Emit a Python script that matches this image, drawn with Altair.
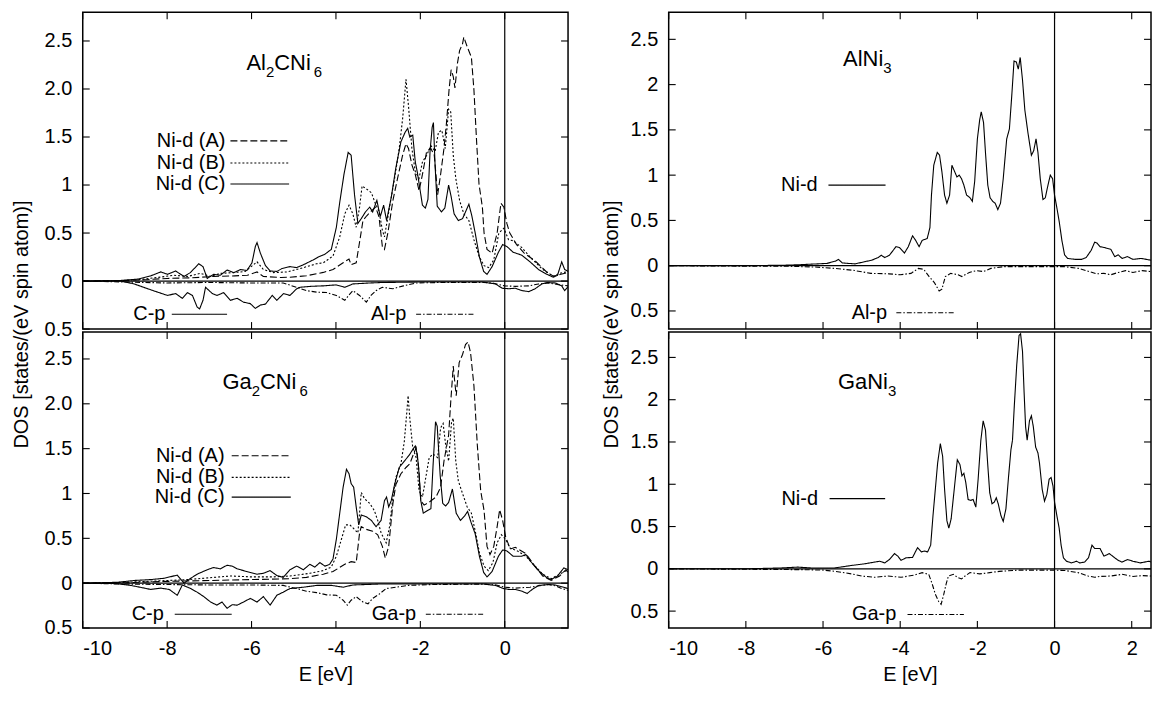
import altair as alt
import pandas as pd

FONT = "Liberation Sans"

# ---------------- axes ----------------
LEFT_XDOM = [-10, 1.5]
RIGHT_XDOM = [-10, 2.5]
LEFT_YDOM = [-0.5, 2.8]
RIGHT_YDOM = [-0.7, 2.8]
LEFT_XTICKS = [-10, -8, -6, -4, -2, 0]
RIGHT_XTICKS = [-10, -8, -6, -4, -2, 0, 2]
YTICKS = [-0.5, 0, 0.5, 1, 1.5, 2, 2.5]
XTITLE = "E [eV]"
YTITLE = "DOS [states/(eV spin atom)]"

# ---------------- Al2CNi6 (top left) ----------------
TL_A = [(-10,0),(-9,0.005),(-8.5,0.014),(-8,0.027),(-7.4,0.034),(-6.9,0.048),(-6.4,0.054),(-6.1,0.06),(-5.87,0.095),(-5.72,0.048),(-5.3,0.037),(-5.09,0.04),(-4.7,0.055),(-4.3,0.09),(-4.07,0.12),(-3.83,0.19),(-3.69,0.23),(-3.64,0.17),(-3.52,0.19),(-3.42,0.46),(-3.36,0.63),(-3.27,0.68),(-3.16,0.73),(-3.06,0.77),(-2.98,0.67),(-2.9,0.36),(-2.85,0.33),(-2.77,0.5),(-2.65,0.84),(-2.54,1.07),(-2.42,1.31),(-2.34,1.43),(-2.28,1.38),(-2.2,1.21),(-2.12,1.11),(-2.03,0.94),(-1.95,1.11),(-1.85,1.35),(-1.75,1.38),(-1.67,1.31),(-1.59,0.9),(-1.52,1.11),(-1.44,1.38),(-1.38,1.65),(-1.32,1.99),(-1.27,2.2),(-1.22,2.13),(-1.18,2.01),(-1.12,2.27),(-1.07,2.4),(-1.0,2.47),(-0.97,2.54),(-0.89,2.44),(-0.79,2.33),(-0.73,1.99),(-0.67,1.48),(-0.61,1.01),(-0.53,0.77),(-0.49,0.5),(-0.42,0.33),(-0.3,0.29),(-0.18,0.5),(-0.09,0.81),(-0.02,0.77),(0.05,0.6),(0.12,0.5),(0.28,0.38),(0.46,0.29),(0.72,0.21),(0.98,0.1),(1.15,0.05),(1.33,0.07),(1.5,0.09)]
TL_B = [(-10,0),(-9,0.005),(-8.7,0.014),(-8.23,0.037),(-7.84,0.06),(-7.52,0.048),(-7.21,0.08),(-6.97,0.048),(-6.74,0.08),(-6.42,0.088),(-6.15,0.1),(-5.87,0.2),(-5.72,0.12),(-5.48,0.088),(-5.16,0.095),(-4.77,0.14),(-4.46,0.18),(-4.3,0.19),(-4.07,0.26),(-3.91,0.46),(-3.79,0.7),(-3.69,0.79),(-3.6,0.7),(-3.52,0.56),(-3.44,0.77),(-3.38,0.99),(-3.28,0.96),(-3.16,0.92),(-3.06,0.8),(-2.98,0.73),(-2.9,0.53),(-2.85,0.46),(-2.73,0.77),(-2.61,1.07),(-2.5,1.38),(-2.42,1.69),(-2.34,2.1),(-2.28,1.82),(-2.2,1.38),(-2.12,1.14),(-2.03,1.07),(-1.95,1.24),(-1.85,1.31),(-1.75,1.41),(-1.65,1.35),(-1.57,1.55),(-1.49,1.57),(-1.41,1.38),(-1.33,1.79),(-1.28,1.76),(-1.22,1.31),(-1.16,1.07),(-1.07,0.84),(-0.97,0.7),(-0.85,0.63),(-0.73,0.43),(-0.61,0.26),(-0.49,0.16),(-0.38,0.14),(-0.26,0.22),(-0.14,0.5),(-0.02,0.55),(0.09,0.43),(0.2,0.42),(0.4,0.35),(0.6,0.25),(0.9,0.12),(1.15,0.05),(1.3,0.08),(1.5,0.1)]
TL_C = [(-10,0),(-9.2,0.003),(-8.7,0.02),(-8.39,0.054),(-8.15,0.095),(-7.99,0.07),(-7.8,0.105),(-7.6,0.048),(-7.45,0.088),(-7.25,0.18),(-7.15,0.15),(-7.05,0.027),(-6.9,0.07),(-6.74,0.06),(-6.58,0.115),(-6.42,0.088),(-6.26,0.12),(-6.11,0.11),(-5.99,0.19),(-5.91,0.36),(-5.87,0.4),(-5.79,0.29),(-5.67,0.16),(-5.56,0.105),(-5.4,0.1),(-5.28,0.13),(-5.09,0.15),(-4.93,0.14),(-4.77,0.17),(-4.54,0.22),(-4.42,0.25),(-4.26,0.28),(-4.11,0.33),(-3.99,0.56),(-3.91,0.82),(-3.81,1.11),(-3.71,1.34),(-3.64,1.31),(-3.56,0.9),(-3.48,0.6),(-3.4,0.65),(-3.3,0.72),(-3.2,0.77),(-3.13,0.72),(-3.03,0.84),(-2.95,0.67),(-2.87,0.79),(-2.8,0.63),(-2.69,0.87),(-2.58,1.18),(-2.46,1.45),(-2.36,1.55),(-2.3,1.59),(-2.25,1.5),(-2.18,1.52),(-2.12,1.24),(-2.07,1.13),(-2.01,0.96),(-1.95,0.79),(-1.88,0.76),(-1.82,0.85),(-1.77,1.35),(-1.72,1.6),(-1.69,1.65),(-1.65,1.2),(-1.6,0.78),(-1.5,0.72),(-1.42,0.76),(-1.33,1.0),(-1.27,0.88),(-1.2,0.7),(-1.1,0.63),(-1.0,0.65),(-0.9,0.75),(-0.85,0.8),(-0.78,0.68),(-0.7,0.5),(-0.6,0.25),(-0.5,0.1),(-0.42,0.07),(-0.3,0.15),(-0.15,0.3),(-0.05,0.38),(0.05,0.36),(0.2,0.3),(0.4,0.27),(0.6,0.2),(0.8,0.12),(1.0,0.07),(1.15,0.04),(1.25,0.06),(1.35,0.2),(1.42,0.12),(1.5,0.1)]
TL_CP = [(-10,0),(-9.1,0),(-8.78,-0.03),(-8.46,-0.08),(-8.23,-0.115),(-7.99,-0.15),(-7.8,-0.13),(-7.64,-0.18),(-7.52,-0.12),(-7.4,-0.15),(-7.29,-0.27),(-7.23,-0.29),(-7.15,-0.2),(-7.09,-0.065),(-6.93,-0.13),(-6.82,-0.15),(-6.66,-0.12),(-6.5,-0.2),(-6.34,-0.18),(-6.19,-0.22),(-6.03,-0.235),(-5.91,-0.285),(-5.79,-0.25),(-5.67,-0.24),(-5.51,-0.15),(-5.4,-0.2),(-5.24,-0.13),(-5.09,-0.15),(-4.93,-0.08),(-4.85,-0.065),(-4.6,-0.055),(-4.3,-0.05),(-4.0,-0.04),(-3.79,-0.065),(-3.6,-0.03),(-3.2,-0.02),(-2.9,-0.015),(-2.0,-0.01),(-0.53,-0.01),(-0.22,-0.03),(-0.06,-0.075),(0.1,-0.08),(0.25,-0.075),(0.41,-0.1),(0.57,-0.11),(0.72,-0.08),(0.88,-0.03),(1.0,-0.015),(1.2,-0.02),(1.35,-0.05),(1.42,-0.1),(1.5,-0.06)]
TL_ALP = [(-10,0),(-9,-0.01),(-8,-0.02),(-7,-0.015),(-6,-0.02),(-5.25,-0.02),(-4.93,-0.065),(-4.7,-0.1),(-4.46,-0.115),(-4.22,-0.12),(-3.99,-0.15),(-3.79,-0.2),(-3.7,-0.15),(-3.6,-0.1),(-3.44,-0.15),(-3.28,-0.22),(-3.17,-0.15),(-3.05,-0.1),(-2.9,-0.065),(-2.65,-0.08),(-2.4,-0.05),(-2.1,-0.02),(-1.5,-0.015),(-0.5,-0.015),(-0.3,-0.02),(0.0,-0.05),(0.25,-0.055),(0.57,-0.05),(0.8,-0.03),(1.04,-0.02),(1.3,-0.04),(1.5,-0.05)]

# ---------------- Ga2CNi6 (bottom left) ----------------
BL_A = [(-10,0),(-9,0.005),(-8,0.02),(-7,0.03),(-6,0.04),(-5.09,0.05),(-4.7,0.065),(-4.3,0.1),(-4.07,0.13),(-3.79,0.21),(-3.64,0.24),(-3.52,0.23),(-3.44,0.56),(-3.4,0.63),(-3.28,0.6),(-3.13,0.58),(-3.01,0.54),(-2.9,0.41),(-2.83,0.28),(-2.75,0.41),(-2.65,0.89),(-2.58,1.1),(-2.46,1.22),(-2.34,1.29),(-2.25,1.33),(-2.17,1.43),(-2.1,1.51),(-2.04,1.29),(-1.99,0.92),(-1.91,0.87),(-1.8,0.9),(-1.63,0.96),(-1.52,1.07),(-1.44,1.36),(-1.33,1.65),(-1.28,2.02),(-1.22,2.42),(-1.19,2.27),(-1.15,2.09),(-1.08,2.46),(-1.0,2.55),(-0.93,2.66),(-0.87,2.69),(-0.81,2.57),(-0.73,2.2),(-0.65,1.54),(-0.57,1.03),(-0.49,0.81),(-0.42,0.41),(-0.35,0.32),(-0.26,0.41),(-0.18,0.63),(-0.12,0.82),(-0.05,0.7),(0.02,0.52),(0.13,0.38),(0.25,0.4),(0.5,0.33),(0.7,0.2),(0.9,0.08),(1.1,0.03),(1.3,0.08),(1.45,0.15),(1.5,0.12)]
BL_B = [(-10,0),(-9,0.01),(-8.5,0.02),(-8,0.03),(-7.5,0.04),(-7,0.06),(-6.5,0.08),(-6,0.07),(-5.5,0.07),(-5.09,0.08),(-4.62,0.11),(-4.3,0.14),(-4.11,0.18),(-3.99,0.3),(-3.87,0.49),(-3.77,0.65),(-3.67,0.65),(-3.56,0.6),(-3.48,0.56),(-3.4,1.01),(-3.32,0.94),(-3.2,0.89),(-3.09,0.81),(-3.01,0.7),(-2.93,0.56),(-2.81,0.45),(-2.73,0.63),(-2.65,0.96),(-2.58,1.18),(-2.46,1.33),(-2.38,1.58),(-2.32,1.91),(-2.29,2.09),(-2.25,1.84),(-2.18,1.51),(-2.1,1.4),(-2.03,1.03),(-1.95,0.96),(-1.87,1.18),(-1.79,1.4),(-1.7,1.44),(-1.59,1.4),(-1.52,1.73),(-1.46,1.78),(-1.4,1.54),(-1.33,1.36),(-1.26,1.8),(-1.22,1.84),(-1.16,1.36),(-1.1,1.14),(-1.0,1.0),(-0.89,0.85),(-0.79,0.78),(-0.69,0.56),(-0.6,0.34),(-0.49,0.19),(-0.39,0.14),(-0.28,0.23),(-0.18,0.45),(-0.08,0.54),(0.02,0.49),(0.13,0.39),(0.3,0.36),(0.5,0.3),(0.7,0.2),(0.9,0.1),(1.1,0.05),(1.3,0.1),(1.5,0.15)]
BL_C = [(-10,0),(-9.17,0.01),(-8.78,0.03),(-8.39,0.04),(-8.07,0.055),(-7.76,0.09),(-7.6,0.0),(-7.44,0.055),(-7.29,0.1),(-7.05,0.15),(-6.9,0.175),(-6.74,0.16),(-6.58,0.2),(-6.46,0.19),(-6.34,0.16),(-6.19,0.14),(-6.03,0.12),(-5.87,0.1),(-5.72,0.11),(-5.56,0.14),(-5.4,0.085),(-5.25,0.065),(-5.09,0.15),(-4.93,0.19),(-4.77,0.15),(-4.62,0.21),(-4.5,0.18),(-4.38,0.23),(-4.26,0.19),(-4.15,0.21),(-4.07,0.27),(-3.99,0.49),(-3.91,0.78),(-3.83,1.07),(-3.75,1.27),(-3.69,1.22),(-3.64,1.11),(-3.58,1.07),(-3.52,0.85),(-3.46,0.65),(-3.4,0.76),(-3.28,0.74),(-3.16,0.7),(-3.05,0.63),(-2.93,0.7),(-2.85,0.92),(-2.8,0.96),(-2.75,0.85),(-2.69,0.92),(-2.61,1.1),(-2.5,1.29),(-2.38,1.36),(-2.26,1.43),(-2.18,1.49),(-2.12,1.53),(-2.07,1.43),(-2.03,1.22),(-1.99,0.92),(-1.93,0.78),(-1.83,0.81),(-1.75,0.83),(-1.7,1.3),(-1.64,1.8),(-1.6,1.75),(-1.53,1.2),(-1.47,0.89),(-1.4,0.86),(-1.33,0.9),(-1.24,1.05),(-1.15,0.78),(-1.05,0.7),(-0.95,0.75),(-0.88,0.8),(-0.8,0.68),(-0.7,0.55),(-0.6,0.3),(-0.5,0.12),(-0.42,0.07),(-0.3,0.13),(-0.15,0.3),(-0.05,0.37),(0.05,0.36),(0.2,0.3),(0.4,0.3),(0.5,0.32),(0.6,0.25),(0.8,0.14),(1.0,0.06),(1.1,0.04),(1.25,0.08),(1.4,0.17),(1.5,0.15)]
BL_CP = [(-10,0),(-9.2,-0.005),(-8.86,-0.025),(-8.54,-0.055),(-8.39,-0.07),(-8.15,-0.055),(-7.95,-0.07),(-7.76,-0.135),(-7.64,-0.02),(-7.44,-0.06),(-7.29,-0.1),(-7.13,-0.15),(-6.97,-0.21),(-6.82,-0.245),(-6.7,-0.21),(-6.58,-0.28),(-6.46,-0.24),(-6.34,-0.245),(-6.19,-0.21),(-6.03,-0.17),(-5.87,-0.21),(-5.72,-0.15),(-5.56,-0.245),(-5.4,-0.135),(-5.25,-0.1),(-5.09,-0.06),(-4.77,-0.045),(-4.46,-0.025),(-4.1,-0.025),(-3.83,-0.045),(-3.6,-0.02),(-3.0,-0.01),(-0.5,-0.01),(-0.22,-0.025),(-0.03,-0.06),(0.1,-0.07),(0.25,-0.07),(0.41,-0.09),(0.53,-0.115),(0.65,-0.07),(0.8,-0.025),(1.04,-0.015),(1.2,-0.02),(1.35,-0.04),(1.5,-0.06)]
BL_GAP = [(-10,0),(-9,-0.01),(-8,-0.015),(-7,-0.02),(-6,-0.02),(-5.25,-0.025),(-4.93,-0.06),(-4.7,-0.09),(-4.46,-0.105),(-4.22,-0.13),(-3.99,-0.135),(-3.83,-0.19),(-3.73,-0.245),(-3.64,-0.19),(-3.52,-0.15),(-3.36,-0.21),(-3.24,-0.23),(-3.13,-0.17),(-2.97,-0.12),(-2.81,-0.06),(-2.58,-0.045),(-2.3,-0.025),(-1.7,-0.015),(-0.5,-0.01),(-0.2,-0.02),(0.0,-0.045),(0.25,-0.055),(0.6,-0.045),(0.88,-0.025),(1.04,-0.015),(1.2,-0.03),(1.35,-0.06),(1.5,-0.08)]

# ---------------- AlNi3 (top right) ----------------
TR_NID = [(-10,0),(-8,0.0),(-7,0.005),(-6.65,0.01),(-5.9,0.025),(-5.68,0.05),(-5.6,0.07),(-5.5,0.03),(-5.17,0.02),(-4.91,0.045),(-4.74,0.06),(-4.57,0.09),(-4.49,0.115),(-4.4,0.09),(-4.28,0.115),(-4.11,0.21),(-4.02,0.2),(-3.89,0.14),(-3.79,0.21),(-3.68,0.33),(-3.6,0.28),(-3.51,0.21),(-3.43,0.28),(-3.3,0.3),(-3.23,0.42),(-3.19,0.78),(-3.13,1.11),(-3.04,1.25),(-2.98,1.22),(-2.92,1.04),(-2.85,0.78),(-2.79,0.69),(-2.72,0.78),(-2.66,1.11),(-2.6,1.05),(-2.53,0.98),(-2.47,1.0),(-2.41,0.96),(-2.35,0.89),(-2.28,0.78),(-2.19,0.75),(-2.13,0.71),(-2.07,0.93),(-2.0,1.4),(-1.94,1.61),(-1.9,1.7),(-1.84,1.58),(-1.79,1.25),(-1.73,0.89),(-1.67,0.75),(-1.6,0.71),(-1.54,0.69),(-1.47,0.62),(-1.4,0.69),(-1.33,0.96),(-1.24,1.4),(-1.17,1.51),(-1.11,1.87),(-1.05,2.26),(-0.99,2.25),(-0.94,2.17),(-0.89,2.3),(-0.83,2.05),(-0.77,1.72),(-0.69,1.47),(-0.6,1.22),(-0.54,1.27),(-0.48,1.4),(-0.43,1.25),(-0.37,0.96),(-0.3,0.73),(-0.24,0.75),(-0.17,0.89),(-0.11,1.0),(-0.05,0.96),(0.0,0.78),(0.06,0.64),(0.12,0.49),(0.19,0.28),(0.26,0.12),(0.34,0.08),(0.53,0.07),(0.7,0.07),(0.82,0.09),(0.95,0.17),(1.04,0.26),(1.1,0.25),(1.18,0.21),(1.3,0.2),(1.46,0.18),(1.56,0.1),(1.65,0.12),(1.75,0.08),(1.89,0.1),(2.03,0.07),(2.25,0.08),(2.5,0.06)]
TR_ALP = [(-10,0),(-8,-0.005),(-7,-0.005),(-6.2,-0.015),(-5.7,-0.03),(-5.23,-0.05),(-4.76,-0.085),(-4.29,-0.09),(-4.0,-0.1),(-3.72,-0.085),(-3.53,-0.03),(-3.39,-0.04),(-3.25,-0.12),(-3.11,-0.19),(-2.99,-0.28),(-2.92,-0.26),(-2.83,-0.12),(-2.69,-0.085),(-2.5,-0.1),(-2.4,-0.12),(-2.21,-0.075),(-2.03,-0.055),(-1.84,-0.065),(-1.65,-0.03),(-1.3,-0.01),(0.24,-0.01),(0.62,-0.03),(0.9,-0.065),(1.09,-0.09),(1.28,-0.085),(1.46,-0.1),(1.65,-0.075),(1.84,-0.055),(2.03,-0.075),(2.27,-0.055),(2.5,-0.065)]

# ---------------- GaNi3 (bottom right) ----------------
BR_NID = [(-10,0),(-8,0.0),(-7.1,0.01),(-6.65,0.02),(-6.3,0.01),(-5.7,0.01),(-5.26,0.04),(-4.91,0.06),(-4.66,0.08),(-4.53,0.09),(-4.4,0.07),(-4.28,0.11),(-4.15,0.18),(-4.06,0.15),(-3.98,0.1),(-3.85,0.13),(-3.68,0.135),(-3.55,0.25),(-3.45,0.2),(-3.37,0.21),(-3.29,0.2),(-3.21,0.28),(-3.15,0.63),(-3.09,0.94),(-3.03,1.25),(-2.96,1.48),(-2.9,1.33),(-2.85,0.94),(-2.79,0.57),(-2.74,0.48),(-2.68,0.59),(-2.6,0.94),(-2.52,1.29),(-2.45,1.23),(-2.4,1.1),(-2.35,1.13),(-2.3,1.02),(-2.24,0.82),(-2.17,0.81),(-2.11,0.82),(-2.04,0.73),(-1.98,1.06),(-1.91,1.52),(-1.85,1.75),(-1.79,1.64),(-1.74,1.29),(-1.68,0.9),(-1.62,0.77),(-1.56,0.79),(-1.51,0.84),(-1.46,0.77),(-1.39,0.63),(-1.33,0.56),(-1.26,0.71),(-1.19,1.1),(-1.13,1.41),(-1.09,1.52),(-1.04,1.95),(-0.98,2.41),(-0.92,2.76),(-0.88,2.78),(-0.83,2.57),(-0.79,2.1),(-0.75,1.68),(-0.71,1.52),(-0.65,1.75),(-0.6,1.81),(-0.55,1.68),(-0.49,1.44),(-0.43,1.37),(-0.39,1.25),(-0.32,0.94),(-0.26,0.8),(-0.2,0.88),(-0.14,1.06),(-0.09,1.08),(-0.04,0.98),(0.0,0.79),(0.06,0.63),(0.12,0.48),(0.17,0.28),(0.23,0.13),(0.31,0.09),(0.44,0.07),(0.57,0.09),(0.65,0.07),(0.78,0.08),(0.88,0.13),(0.97,0.28),(1.04,0.24),(1.09,0.24),(1.18,0.24),(1.28,0.15),(1.42,0.18),(1.56,0.13),(1.65,0.1),(1.75,0.08),(1.89,0.11),(2.03,0.09),(2.22,0.07),(2.45,0.09),(2.5,0.08)]
BR_GAP = [(-10,0),(-8,-0.005),(-6.5,-0.01),(-6.0,-0.015),(-5.68,-0.03),(-5.26,-0.06),(-5.0,-0.085),(-4.66,-0.1),(-4.32,-0.085),(-3.98,-0.1),(-3.64,-0.075),(-3.43,-0.045),(-3.26,-0.065),(-3.17,-0.18),(-3.09,-0.3),(-3.0,-0.39),(-2.94,-0.42),(-2.87,-0.3),(-2.81,-0.18),(-2.75,-0.085),(-2.62,-0.065),(-2.52,-0.1),(-2.41,-0.12),(-2.32,-0.085),(-2.19,-0.045),(-1.94,-0.06),(-1.68,-0.045),(-1.43,-0.03),(-0.9,-0.015),(0.0,-0.015),(0.27,-0.02),(0.61,-0.045),(0.87,-0.085),(1.04,-0.1),(1.18,-0.09),(1.46,-0.085),(1.75,-0.065),(2.03,-0.09),(2.27,-0.08),(2.5,-0.085)]

# ---------------- styles ----------------
SERIES = ["Ni-d (A)", "Ni-d (B)", "Ni-d (C)", "C-p", "Al-p", "Ga-p", "Ni-d"]
DASHES = [[7, 3], [2, 2], [1, 0], [1, 0], [5, 2, 1.5, 2], [5, 2, 1.5, 2], [1, 0]]
CHAR_EM = {"A": 0.667, "l": 0.222, "C": 0.722, "N": 0.722, "i": 0.222,
           "G": 0.778, "a": 0.556}
MAIN_FS = 22
SUB_FS = 15
LBL_FS = 20

DASH_SCALE = alt.Scale(domain=SERIES, range=DASHES)


def text_width(s, fs):
    return sum(CHAR_EM.get(c, 0.556) for c in s) * fs


def panel(curves, xdom, ydom, xticks, W, H, title_parts, title_at,
          legend_text, legend_lines, show_x, ytitle, ytitle_x, ytitle_y, left_fmt):
    xs = alt.Scale(domain=xdom, nice=False, zero=False)
    ys = alt.Scale(domain=ydom, nice=False, zero=False)

    rows = []
    for name, pts in curves:
        for e, d in pts:
            rows.append({"E": e, "D": d, "s": name})
    df = pd.DataFrame(rows)

    if show_x:
        xaxis = alt.Axis(values=xticks, ticks=False, domain=False, grid=False,
                         labelExpr="toString(datum.value)", labelPadding=11,
                         labelFontSize=LBL_FS, titlePadding=6, title=XTITLE,
                         titleFontSize=LBL_FS)
    else:
        xaxis = None

    if left_fmt:
        yexpr = "datum.value == 2 ? '2.0' : toString(abs(datum.value))"
    else:
        yexpr = "toString(abs(datum.value))"
    yargs = dict(values=YTICKS, ticks=False, domain=False, grid=False,
                 labelExpr=yexpr, labelPadding=11, labelFontSize=LBL_FS)
    if ytitle:
        yaxis = alt.Axis(title=YTITLE, titleX=ytitle_x, titleY=ytitle_y,
                         titleBaseline="middle", titleFontSize=LBL_FS, **yargs)
    else:
        yaxis = alt.Axis(title=None, **yargs)

    def X(field):
        return alt.X(field, scale=xs, axis=xaxis)

    def Y(field):
        return alt.Y(field, scale=ys, axis=yaxis)

    layers = []
    layers.append(
        alt.Chart(df).mark_line(color="black", strokeWidth=1.1, clip=True).encode(
            x=X("E:Q"), y=Y("D:Q"),
            strokeDash=alt.StrokeDash("s:N", scale=DASH_SCALE, legend=None),
            detail="s:N",
        )
    )
    zero = pd.DataFrame({"E": [0], "D": [0]})
    layers.append(alt.Chart(zero).mark_rule(color="black", strokeWidth=1.2).encode(y=Y("D:Q")))
    layers.append(alt.Chart(zero).mark_rule(color="black", strokeWidth=1.2).encode(x=X("E:Q")))

    # inward tick marks on all four sides
    xt = pd.DataFrame({"E": xticks})
    yt = pd.DataFrame({"D": YTICKS})
    tick = dict(color="black", strokeWidth=1.1)
    layers.append(alt.Chart(xt).mark_rule(**tick).encode(
        x=X("E:Q"), y=alt.value(0), y2=alt.value(7)))
    layers.append(alt.Chart(xt).mark_rule(**tick).encode(
        x=X("E:Q"), y=alt.value(H - 7), y2=alt.value(H)))
    layers.append(alt.Chart(yt).mark_rule(**tick).encode(
        y=Y("D:Q"), x=alt.value(0), x2=alt.value(7)))
    layers.append(alt.Chart(yt).mark_rule(**tick).encode(
        y=Y("D:Q"), x=alt.value(W - 7), x2=alt.value(W)))

    # key
    lt = pd.DataFrame(legend_text, columns=["E", "D", "label"])
    layers.append(alt.Chart(lt).mark_text(align="right", baseline="middle", font=FONT,
                                          fontSize=LBL_FS, color="black").encode(
        x=X("E:Q"), y=Y("D:Q"), text="label:N"))
    ll = pd.DataFrame(legend_lines, columns=["E", "E2", "D", "s"])
    layers.append(alt.Chart(ll).mark_rule(color="black", strokeWidth=1.1).encode(
        x=X("E:Q"), x2="E2:Q", y=Y("D:Q"),
        strokeDash=alt.StrokeDash("s:N", scale=DASH_SCALE, legend=None)))

    # compound title with subscripts
    e0, d0 = title_at
    off = 0.0
    pos = pd.DataFrame({"E": [e0], "D": [d0]})
    n = len(title_parts)
    for i, (txt, sub) in enumerate(title_parts):
        fs = SUB_FS if sub else MAIN_FS
        if sub and i == n - 1 and n > 2:
            off += 3
        layers.append(alt.Chart(pos).mark_text(
            align="left", baseline="alphabetic", font=FONT, fontSize=fs,
            color="black", dx=off, dy=7 if sub else 0, text=txt).encode(
            x=X("E:Q"), y=Y("D:Q")))
        off += text_width(txt, fs)

    return alt.layer(*layers).properties(width=W, height=H)


W_L, W_R = 487, 484
H_T, H_B = 318, 297

tl = panel(
    [("Ni-d (A)", TL_A), ("Ni-d (B)", TL_B), ("Ni-d (C)", TL_C), ("C-p", TL_CP), ("Al-p", TL_ALP)],
    LEFT_XDOM, LEFT_YDOM, LEFT_XTICKS, W_L, H_T,
    [("Al", False), ("2", True), ("CNi", False), ("6", True)], (-6.12, 2.2),
    [(-6.62, 1.46, "Ni-d (A)"), (-6.62, 1.23, "Ni-d (B)"), (-6.62, 1.01, "Ni-d (C)"),
     (-8.04, -0.345, "C-p"), (-2.33, -0.345, "Al-p")],
    [(-6.5, -5.11, 1.46, "Ni-d (A)"), (-6.5, -5.11, 1.23, "Ni-d (B)"),
     (-6.5, -5.11, 1.01, "Ni-d (C)"), (-7.89, -6.58, -0.345, "C-p"),
     (-2.1, -0.71, -0.345, "Al-p")],
    False, True, -61, 313, True)

bl = panel(
    [("Ni-d (A)", BL_A), ("Ni-d (B)", BL_B), ("Ni-d (C)", BL_C), ("C-p", BL_CP), ("Ga-p", BL_GAP)],
    LEFT_XDOM, LEFT_YDOM, LEFT_XTICKS, W_L, H_B,
    [("Ga", False), ("2", True), ("CNi", False), ("6", True)], (-6.69, 2.16),
    [(-6.64, 1.42, "Ni-d (A)"), (-6.64, 1.18, "Ni-d (B)"), (-6.64, 0.96, "Ni-d (C)"),
     (-8.08, -0.347, "C-p"), (-2.1, -0.347, "Ga-p")],
    [(-6.47, -5.07, 1.42, "Ni-d (A)"), (-6.47, -5.07, 1.18, "Ni-d (B)"),
     (-6.47, -5.07, 0.96, "Ni-d (C)"), (-7.82, -6.47, -0.347, "C-p"),
     (-1.87, -0.49, -0.347, "Ga-p")],
    True, False, 0, 0, True)

tr = panel(
    [("Ni-d", TR_NID), ("Al-p", TR_ALP)],
    RIGHT_XDOM, RIGHT_YDOM, RIGHT_XTICKS, W_R, H_T,
    [("AlNi", False), ("3", True)], (-5.48, 2.2),
    [(-6.14, 0.89, "Ni-d"), (-4.34, -0.52, "Al-p")],
    [(-5.86, -4.38, 0.89, "Ni-d"), (-4.1, -2.6, -0.52, "Al-p")],
    False, True, -57, 313, False)

br = panel(
    [("Ni-d", BR_NID), ("Ga-p", BR_GAP)],
    RIGHT_XDOM, RIGHT_YDOM, RIGHT_XTICKS, W_R, H_B,
    [("GaNi", False), ("3", True)], (-5.61, 2.13),
    [(-6.13, 0.83, "Ni-d"), (-4.1, -0.54, "Ga-p")],
    [(-5.83, -4.39, 0.83, "Ni-d"), (-3.81, -2.35, -0.54, "Ga-p")],
    True, False, 0, 0, False)

chart = alt.concat(
    tl, tr, bl, br, columns=2, spacing={"row": 3, "column": 101},
    bounds="flush", align="each",
).properties(
    padding={"left": 3, "top": 1, "right": 0, "bottom": 0},
    background="white",
).configure_view(
    stroke="black", strokeWidth=1.5,
).configure_axis(
    labelFont=FONT, titleFont=FONT, labelColor="black", titleColor="black",
    titleFontWeight="normal",
).configure_text(font=FONT)

chart.save("out.html", embed_options={"renderer": "svg", "actions": False})
